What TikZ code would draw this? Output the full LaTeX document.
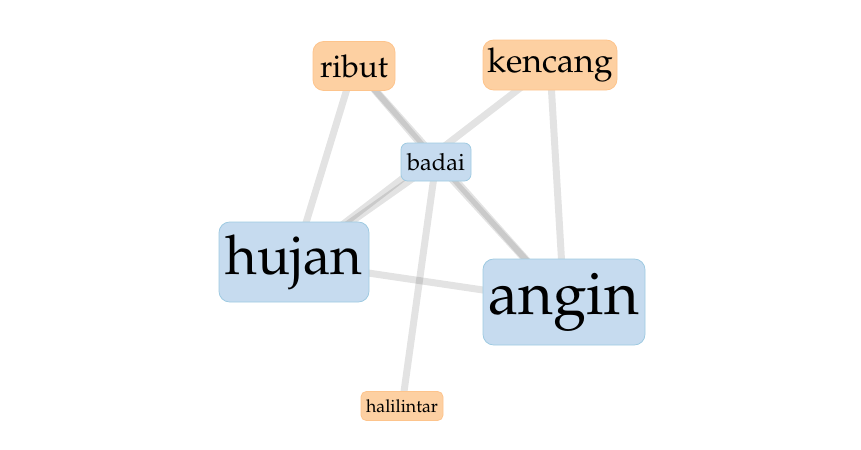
\documentclass[tikz,border=0pt]{standalone}
\usepackage[T1]{fontenc}
\usepackage{mathpazo}
\usetikzlibrary{positioning, backgrounds}
\definecolor{termBlue}{HTML}{C6DBEF}
\definecolor{termBlueLine}{HTML}{9ECAE1}
\definecolor{termOrange}{HTML}{FDD0A2}
\definecolor{termOrangeLine}{HTML}{FDC48C}
\tikzset{
  term/.style = {
    draw,
    align=center,
    inner sep=0pt,
    line width=.6pt,
    rounded corners=8pt,
  },
  mainTerm/.style = {
    term,
    fill=termBlue,
    draw=termBlueLine,
  },
  sideTerm/.style = {
    term,
    fill=termOrange,
    draw=termOrangeLine,
  },
  link/.style = {
    line width=5.25pt,
    draw=black,
    draw opacity=.11,
  },
}

\begin{document}
\begin{tikzpicture}[
  x=.75pt,
  y=-.75pt,
  size/.style 2 args = {
    minimum width=#1,
    minimum height=#2,
  },
  fs/.style = {
    font=\fontsize{#1}{#1}\selectfont,
  },
]
\useasboundingbox (0,0) rectangle (861,450);

\node(Ribut)[sideTerm, size={61.5pt}{36.75pt}, fs=23.5] at (354,66) {ribut};
\node(Kencang)[sideTerm, size={100.5pt}{37.5pt}, fs=25.5] at (550,65) {kencang};
\node(Badai)[mainTerm, size={52.5pt}{28.5pt}, fs=17.7, rounded corners=5pt] at (436,162) {badai};
\node(Hujan)[mainTerm, size={112.5pt}{60pt}, fs=41] at (294,262) {hujan};
\node(Angin)[mainTerm, size={121.5pt}{64.5pt}, fs=45] at (564,302) {angin};
\node(Halilintar)[sideTerm, size={61.5pt}{21.75pt}, fs=13.3, rounded corners=4pt] at (402,406) {halilintar};

\begin{scope}[on background layer]
  \draw[link] (Ribut.center) -- (Hujan.center);
  \draw[link] (Ribut.center) -- (Angin.center);
  \draw[link] (Ribut.center) -- (Badai.center);
  \draw[link] (Badai.center) -- (Angin.center);
  \draw[link] (Kencang.center) -- (Hujan.center);
  \draw[link] (Kencang.center) -- (Angin.center);
  \draw[link] (Badai.center) -- (Hujan.center);
  \draw[link] (Badai.center) -- (Halilintar.center);
  \draw[link] (Hujan.center) -- (Angin.center);
\end{scope}

\end{tikzpicture}
\end{document}
